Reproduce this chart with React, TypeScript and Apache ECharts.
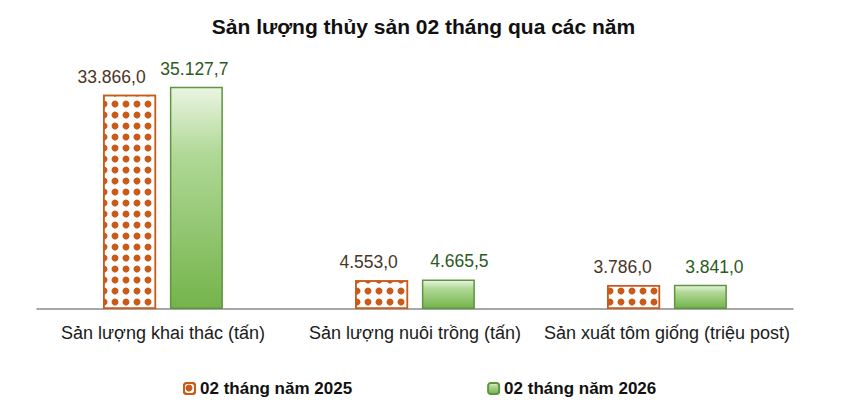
import React, { useEffect, useRef } from "react";
import * as echarts from "echarts";

const categories = [
  "Sản lượng khai thác (tấn)",
  "Sản lượng nuôi trồng (tấn)",
  "Sản xuất tôm giống (triệu post)",
];
const series2025 = [33866.0, 4553.0, 3786.0];
const series2026 = [35127.7, 4665.5, 3841.0];
const seriesNames = ["02 tháng năm 2025", "02 tháng năm 2026"];
const labelShift2025 = [-18, -13, -11];
const labelShift2026 = [-2, 11, 14];

const fmt = (v: number) => {
  const [i, d] = v.toFixed(1).split(".");
  return i.replace(/\B(?=(\d{3})+(?!\d))/g, ".") + "," + d;
};

const FONT = "Liberation Sans, Arial, sans-serif";
const ORANGE = "#c95a1a";

export default function App() {
  const ref = useRef<HTMLDivElement>(null);
  useEffect(() => {
    if (!ref.current) return;
    const chart = echarts.init(ref.current, undefined, { renderer: "svg" });
    const greenFill = new echarts.graphic.LinearGradient(0, 0, 0, 1, [
      { offset: 0, color: "#eaf5e2" },
      { offset: 0.3, color: "#b0d896" },
      { offset: 1, color: "#74b44b" },
    ]);
    chart.setOption({
      animation: false,
      backgroundColor: "#ffffff",
      textStyle: { fontFamily: FONT },
      title: {
        text: "Sản lượng thủy sản 02 tháng qua các năm",
        left: "center",
        top: 11,
        textStyle: { fontFamily: FONT, fontSize: 21, fontWeight: "bold", color: "#111" },
      },
      legend: {
        left: 178,
        top: 375,
        itemWidth: 11,
        itemHeight: 11,
        itemGap: 135,
        textStyle: { fontFamily: FONT, fontSize: 17, fontWeight: "bold", color: "#111" },
        data: seriesNames,
      },
      grid: { left: 37, right: 54, top: 56, bottom: 106, containLabel: false },
      xAxis: {
        type: "category",
        data: categories,
        axisLine: { lineStyle: { color: "#8a8a8a", width: 1.5 } },
        axisTick: { show: false },
        axisLabel: { interval: 0, margin: 15, fontSize: 18, color: "#1a1a1a", fontFamily: FONT },
      },
      yAxis: { type: "value", min: 0, max: 40000, show: false, splitLine: { show: false } },
      series: [
        {
          name: seriesNames[0],
          type: "bar",
          barWidth: 53,
          barGap: "26%",
          data: series2025.map((v, i) => ({
            value: v,
            label: { offset: [labelShift2025[i], 0] },
          })),
          itemStyle: {
            color: "#ffffff",
            borderColor: ORANGE,
            borderWidth: 1.5,
            decal: {
              symbol: "circle",
              symbolSize: 0.7,
              color: ORANGE,
              dashArrayX: [10, 0.4],
              dashArrayY: [10, 0.4],
              rotation: 0,
            },
          },
          label: {
            show: true,
            position: "top",
            distance: 9,
            fontSize: 17.5,
            color: "#4a3626",
            fontFamily: FONT,
            formatter: (p: any) => fmt(p.value),
          },
        },
        {
          name: seriesNames[1],
          type: "bar",
          barWidth: 53,
          data: series2026.map((v, i) => ({
            value: v,
            label: { offset: [labelShift2026[i], 0] },
          })),
          itemStyle: {
            color: greenFill,
            borderColor: "#5f9540",
            borderWidth: 1.5,
          },
          label: {
            show: true,
            position: "top",
            distance: 9,
            fontSize: 17.5,
            color: "#2b5a1c",
            fontFamily: FONT,
            formatter: (p: any) => fmt(p.value),
          },
        },
      ],
    });
    return () => chart.dispose();
  }, []);
  return (
    <div
      ref={ref}
      style={{ position: "absolute", left: 0, top: 0, width: 847, height: 415 }}
    />
  );
}
